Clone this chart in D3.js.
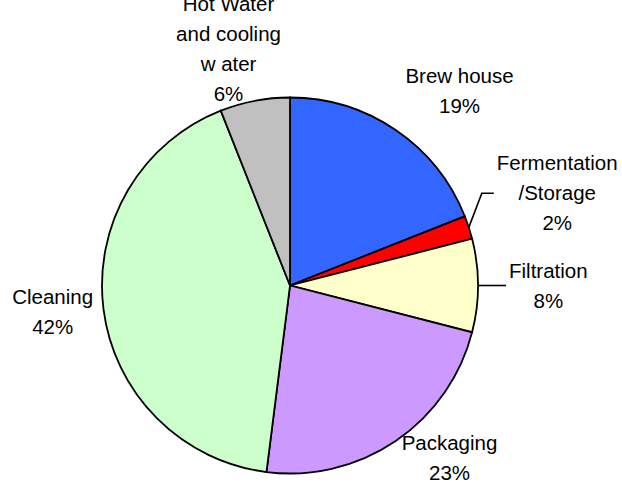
<!DOCTYPE html>
<html>
<head>
<meta charset="utf-8">
<script src="https://cdn.jsdelivr.net/npm/d3@7"></script>
<style>
  body { margin: 0; background: #fff; }
  svg { display: block; }
  .label { font-family: "Liberation Sans", Arial, sans-serif; font-size: 20.5px; fill: #000; }
  .slice { stroke: #000; stroke-width: 1.8; }
  .leader { fill: none; stroke: #000; stroke-width: 1.6; }
</style>
</head>
<body>
<div id="container"></div>
<script>
const WIDTH = 622;
const HEIGHT = 484;
const CX = 290;
const CY = 285.5;
const RADIUS = 188;
const LABEL_RADIUS = RADIUS + 20;
const LINE_STEP = 30;

// data, clockwise from 12 o'clock
var CATEGORIES = ["Brew house", "Fermentation\n/Storage", "Filtration",
    "Packaging", "Cleaning", "Hot Water\nand cooling\nw ater"];
var VALUES = [19, 2, 8, 23, 42, 6];
var COLORS = ["#3366ff", "#ff0000", "#ffffcc", "#cc99ff", "#ccffcc", "#c0c0c0"];

// label placement: offset from the label-radius centroid, leader = horizontal tail length
var LABEL_NUDGE = [[52.6, -22.5], [-6, -28], [-8, 0], [42.6, 0], [-31, 0], [-22.5, -32.5]];
var LEADER_TAIL = [0, 12, 16, 0, 0, 0];

var translate = function (x, y) {
    return "translate(" + x + "," + y + ")";
};

var pie = d3.pie().sort(null).value(function (d) { return d.value; });
var arc = d3.arc().innerRadius(0).outerRadius(RADIUS);
var edgeArc = d3.arc().innerRadius(RADIUS).outerRadius(RADIUS);
var labelArc = d3.arc().innerRadius(LABEL_RADIUS).outerRadius(LABEL_RADIUS);

var rows = VALUES.map(function (v, i) {
    return {name: CATEGORIES[i], value: v, color: COLORS[i], i: i};
});

var drawSlices = function (g, arcs) {
    g.selectAll("path.slice").data(arcs)
        .enter().append("path")
        .classed("slice", true)
        .attr("d", arc)
        .attr("fill", function (d) { return d.data.color; });
};

var drawLabels = function (g, arcs) {
    arcs.forEach(function (d) {
        var i = d.data.i;
        var c = labelArc.centroid(d);
        var ax = c[0] + LABEL_NUDGE[i][0];
        var ay = c[1] + LABEL_NUDGE[i][1];
        var lines = d.data.name.split("\n").concat([d.data.value + "%"]);
        var y0 = ay - (lines.length - 1) * LINE_STEP / 2 + 7;

        var text = g.append("text").classed("label", true)
            .attr("text-anchor", "middle");
        lines.forEach(function (s, k) {
            text.append("tspan").attr("x", 0).attr("y", y0 + k * LINE_STEP).text(s);
        });

        if (LEADER_TAIL[i] > 0) {
            var p = edgeArc.centroid(d);
            var endX = ax + LEADER_TAIL[i];
            g.append("path").classed("leader", true)
                .attr("d", d3.line()([p, [ax, ay], [endX, ay]]));
            var w = d3.max(text.selectAll("tspan").nodes(), function (n) {
                return n.getComputedTextLength();
            });
            text.selectAll("tspan").attr("x", endX + 3 + w / 2);
        } else {
            text.selectAll("tspan").attr("x", ax);
        }
    });
};

var generateChart = function () {
    var svg = d3.select("#container").append("svg")
        .attr("width", WIDTH)
        .attr("height", HEIGHT);
    var g = svg.append("g").attr("transform", translate(CX, CY));
    var arcs = pie(rows);
    drawSlices(g, arcs);
    drawLabels(g, arcs);
};

window.onload = generateChart;
</script>
</body>
</html>
